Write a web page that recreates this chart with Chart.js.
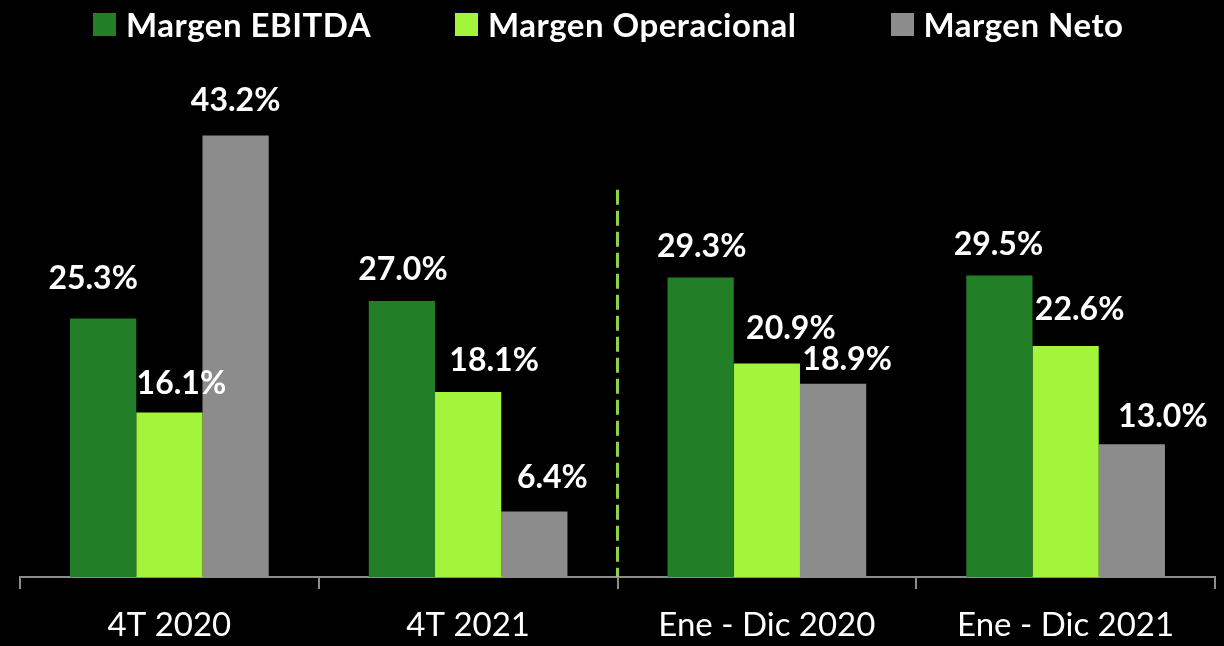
<!DOCTYPE html>
<html>
<head>
<meta charset="utf-8">
<script src="https://cdn.jsdelivr.net/npm/chart.js@4.4.1/dist/chart.umd.min.js"></script>
<style>
  html, body { margin: 0; padding: 0; background: #000; }
  #wrap { width: 1224px; height: 646px; position: relative; }
  #legend {
    position: absolute; left: 0; top: 0; width: 1131px; height: 48px; padding-left: 93px;
    display: flex; justify-content: flex-start; align-items: center;
    font: bold 33px Lato, "Open Sans", sans-serif; color: #fff; letter-spacing: 0.5px;
  }
  #legend .item { display: flex; align-items: center; white-space: nowrap; }
  #legend .item:nth-child(1) { margin-right: 84px; }
  #legend .item:nth-child(2) { margin-right: 94px; }
  #legend .box { width: 23px; height: 23px; margin-right: 10px; }
</style>
</head>
<body>
<div id="wrap">
  <canvas id="margins"></canvas>
  <div id="legend"></div>
</div>
<script>
// === Data ===
const periods = ["4T 2020", "4T 2021", "Ene - Dic 2020", "Ene - Dic 2021"];
const margenEbitda = [25.3, 27.0, 29.3, 29.5];
const margenOperacional = [16.1, 18.1, 20.9, 22.6];
const margenNeto = [43.2, 6.4, 18.9, 13.0];

const FONT = "Lato, 'Open Sans', sans-serif";

// === Legend built from the chart's own legend items ===
const htmlLegend = {
  id: "htmlLegend",
  afterUpdate(chart) {
    const box = document.getElementById("legend");
    box.innerHTML = "";
    const items = chart.options.plugins.legend.labels.generateLabels(chart);
    items.forEach((item) => {
      const el = document.createElement("div");
      el.className = "item";
      el.innerHTML = `<span class="box" style="background:${item.fillStyle}"></span><span>${item.text}</span>`;
      box.appendChild(el);
    });
  },
};

// === Value labels above bars (hand-nudged like the original slide) ===
const valueLabels = {
  id: "valueLabels",
  afterDatasetsDraw(chart) {
    const ctx = chart.ctx;
    ctx.save();
    ctx.fillStyle = "#ffffff";
    ctx.font = `bold 32px ${FONT}`;
    ctx.textAlign = "center";
    ctx.textBaseline = "middle";
    chart.data.datasets.forEach((ds, i) => {
      const meta = chart.getDatasetMeta(i);
      meta.data.forEach((bar, j) => {
        const dx = ds.labelDx ? ds.labelDx[j] : 0;
        const dy = ds.labelDy ? ds.labelDy[j] : 33;
        ctx.fillText(ds.data[j].toFixed(1) + "%", bar.x + dx, bar.y - dy);
      });
    });
    ctx.restore();
  },
};

// === Dashed divider between quarters and full years ===
const divider = {
  id: "divider",
  afterDatasetsDraw(chart) {
    const x = chart.scales.x;
    const y = chart.scales.y;
    const px = (x.getPixelForValue(1) + x.getPixelForValue(2)) / 2;
    const ctx = chart.ctx;
    ctx.save();
    ctx.strokeStyle = "#8fd14f";
    ctx.lineWidth = 3;
    ctx.setLineDash([15, 6]);
    ctx.beginPath();
    ctx.moveTo(px, y.getPixelForValue(37.9));
    ctx.lineTo(px, y.getPixelForValue(0));
    ctx.stroke();
    ctx.restore();
  },
};

new Chart(document.getElementById("margins"), {
  type: "bar",
  data: {
    labels: periods,
    datasets: [
      {
        label: "Margen EBITDA", data: margenEbitda, backgroundColor: "#237f27",
        labelDx: [-10, 1, 1, -1], labelDy: [40, 31, 31, 31],
      },
      {
        label: "Margen Operacional", data: margenOperacional, backgroundColor: "#a3f53b",
        labelDx: [12, 26, 24, 14], labelDy: [29, 31, 35, 36],
      },
      {
        label: "Margen Neto", data: margenNeto, backgroundColor: "#8c8c8c",
        labelDx: [0, 18, 14, 31], labelDy: [35, 34, 24, 27],
      },
    ],
  },
  options: {
    responsive: true,
    maintainAspectRatio: false,
    animation: false,
    layout: { padding: { left: 20, right: 9, top: 66, bottom: 0 } },
    datasets: { bar: { categoryPercentage: 0.665, barPercentage: 1.0 } },
    plugins: {
      legend: { display: false },
      tooltip: { enabled: false },
    },
    scales: {
      x: {
        afterFit: (scale) => { scale.height = 69; },
        grid: {
          offset: true,
          drawOnChartArea: false,
          drawTicks: true,
          tickLength: 12,
          color: "#8c8c8c",
          lineWidth: 2,
        },
        border: { color: "#8c8c8c", width: 2 },
        ticks: { color: "#ffffff", font: { family: FONT, size: 33 }, padding: 17 },
      },
      y: {
        display: false,
        min: 0,
        max: 50,
      },
    },
  },
  plugins: [htmlLegend, valueLabels, divider],
});
</script>
</body>
</html>
